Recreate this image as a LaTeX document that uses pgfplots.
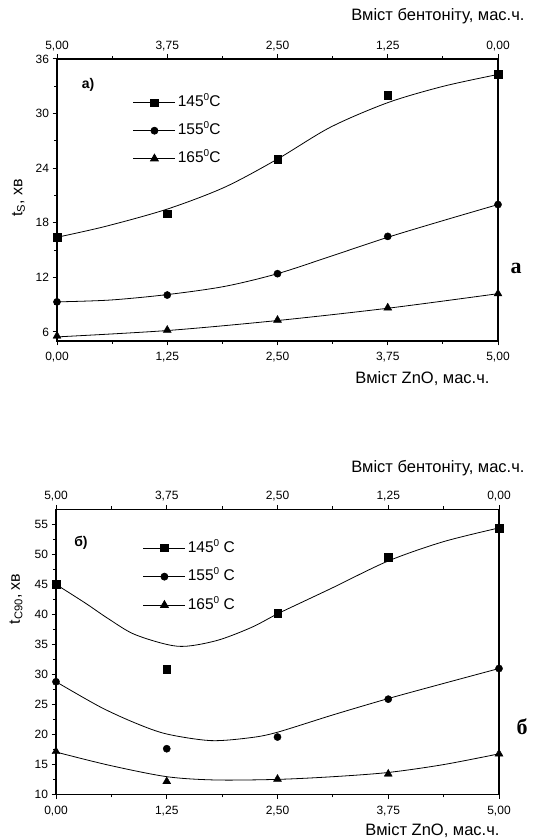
\documentclass[border=0pt]{standalone}
\usepackage{pgfplots}
\pgfplotsset{compat=1.18}
\usepackage{fontspec}
\setmainfont{Liberation Sans}
\newfontfamily\serifb{Liberation Serif}
\newcommand{\degsup}[1]{\raisebox{0.75ex}{\fontsize{10}{10}\selectfont #1}}
\pgfplotsset{
  base/.style={
    scale only axis,
    axis line style={line width=1.3pt},
    tick align=outside,
    major tick length=4.5pt, minor tick length=2.8pt,
    every tick/.style={black, line width=1pt},
    tick label style={font=\fontsize{12}{14}\selectfont},
    /pgf/number format/assume math mode=true,
    xmin=0, xmax=5,
    xtick={0,1.25,2.5,3.75,5},
    minor x tick num=1,
    clip=false,
  },
  bot/.style={xticklabel style={yshift=-3.5pt}},
}
\begin{document}
\begin{tikzpicture}
\path[use as bounding box] (0pt,0pt) rectangle (549pt,840pt);

% ---------------- panel a ----------------
\begin{axis}[base, bot,
  at={(57pt,499pt)}, anchor=south west, width=441pt, height=282pt,
  ymin=5, ymax=36, ytick={6,12,...,36}, minor y tick num=1,
  xtick pos=left, ytick pos=left,
  xticklabels={{0,00},{1,25},{2,50},{3,75},{5,00}},
  legend style={at={(0.172,0.7457)}, anchor=west, draw=none, fill=none,
    inner sep=0pt, row sep=10pt,
    nodes={inner sep=2pt, text height=11pt, text depth=3pt},
    font=\fontsize{15.5}{18}\selectfont},
  legend cell align=left,
  legend image code/.code={\draw[mark repeat=2,mark phase=2,#1] plot coordinates {(0pt,0pt) (21pt,0pt) (42pt,0pt)};},
]
\addlegendimage{black, line width=0.8pt, mark=square*, mark size=3.6pt}
\addlegendentry{145\degsup{0}C}
\addlegendimage{black, line width=0.8pt, mark=*, mark size=3.5pt}
\addlegendentry{155\degsup{0}C}
\addlegendimage{black, line width=0.8pt, mark=triangle*, mark size=4.5pt}
\addlegendentry{165\degsup{0}C}
% fitted curves
\addplot[black, line width=0.8pt, smooth] coordinates {(0,16.4) (0.55,17.6) (1.25,19.5) (1.9,21.9) (2.5,25.0) (3.1,28.5) (3.75,31.2) (4.38,33.0) (5,34.3)};
\addplot[black, line width=0.8pt, smooth] coordinates {(0,9.3) (0.6,9.5) (1.25,10.1) (1.9,11.0) (2.5,12.4) (3.1,14.3) (3.75,16.4) (4.4,18.3) (5,20.0)};
\addplot[black, line width=0.8pt, smooth] coordinates {(0,5.45) (1.25,6.15) (2.5,7.25) (3.75,8.6) (5,10.2)};
% measured points
\addplot[only marks, mark=square*, mark size=3.8pt] coordinates {(0,16.4) (1.25,19.0) (2.5,25.0) (3.75,32.0) (5,34.3)};
\addplot[only marks, mark=*, mark size=3.6pt] coordinates {(0,9.3) (1.25,10.05) (2.5,12.4) (3.75,16.5) (5,20.0)};
\addplot[only marks, mark=triangle*, mark size=4.6pt] coordinates {(0,5.55) (1.25,6.2) (2.5,7.3) (3.75,8.65) (5,10.2)};
\end{axis}
\begin{axis}[base,
  at={(57pt,499pt)}, anchor=south west, width=441pt, height=282pt,
  ymin=5, ymax=36,
  axis x line*=top, axis y line=none,
  xticklabels={{5,00},{3,75},{2,50},{1,25},{0,00}},
]
\end{axis}
\node[anchor=east, font=\fontsize{16.5}{19}\selectfont] at (528pt,824pt) {Вміст бентоніту, мас.ч.};
\node[anchor=east, font=\fontsize{16.5}{19}\selectfont] at (493pt,461pt) {Вміст ZnO, мас.ч.};
\node[rotate=90, font=\fontsize{16}{19}\selectfont] at (18.5pt,642pt) {t\textsubscript{S}, хв};
\node[font=\bfseries\fontsize{14}{16}\selectfont] at (88pt,755pt) {а)};
\node[font=\serifb\bfseries\fontsize{22}{24}\selectfont] at (516pt,572pt) {а};

% ---------------- panel b ----------------
\begin{axis}[base, bot,
  at={(56pt,45.3pt)}, anchor=south west, width=443pt, height=285.4pt,
  ymin=10, ymax=57.5, ytick={10,15,...,55}, minor y tick num=1,
  xtick pos=left, ytick pos=left,
  xticklabels={{0,00},{1,25},{2,50},{3,75},{5,00}},
  legend style={at={(0.196,0.7640)}, anchor=west, draw=none, fill=none,
    inner sep=0pt, row sep=10.5pt,
    nodes={inner sep=2pt, text height=11pt, text depth=3pt},
    font=\fontsize{15.5}{18}\selectfont},
  legend cell align=left,
  legend image code/.code={\draw[mark repeat=2,mark phase=2,#1] plot coordinates {(0pt,0pt) (21pt,0pt) (42pt,0pt)};},
]
\addlegendimage{black, line width=0.8pt, mark=square*, mark size=3.6pt}
\addlegendentry{145\degsup{0} C}
\addlegendimage{black, line width=0.8pt, mark=*, mark size=3.5pt}
\addlegendentry{155\degsup{0} C}
\addlegendimage{black, line width=0.8pt, mark=triangle*, mark size=4.5pt}
\addlegendentry{165\degsup{0} C}
% fitted curves
\addplot[black, line width=0.8pt, smooth] coordinates {(0,45) (0.33,41.9) (0.6,39.2) (0.9,36.6) (1.375,34.7) (1.8,35.6) (2.2,37.8) (2.5,40.1) (2.8,42.2) (3.13,44.5) (3.75,48.9) (4.37,52.1) (5,54.4)};
\addplot[black, line width=0.8pt, smooth] coordinates {(0,28.8) (0.5,24.6) (0.9,21.9) (1.25,20.1) (1.75,19.0) (2.2,19.5) (2.5,20.4) (3.13,23.3) (3.75,26.0) (4.37,28.5) (5,31.0)};
\addplot[black, line width=0.8pt, smooth] coordinates {(0,17.1) (0.6,14.9) (1.25,13.0) (1.8,12.45) (2.5,12.55) (3.13,13.0) (3.75,13.7) (4.37,15.0) (5,16.8)};
% measured points
\addplot[only marks, mark=square*, mark size=3.8pt] coordinates {(0,45.0) (1.25,30.9) (2.5,40.2) (3.75,49.5) (5,54.4)};
\addplot[only marks, mark=*, mark size=3.6pt] coordinates {(0,28.8) (1.25,17.65) (2.5,19.6) (3.75,25.9) (5,31.0)};
\addplot[only marks, mark=triangle*, mark size=4.6pt] coordinates {(0,17.2) (1.25,12.2) (2.5,12.6) (3.75,13.45) (5,16.8)};
\end{axis}
\begin{axis}[base,
  at={(56pt,45.3pt)}, anchor=south west, width=443pt, height=285.4pt,
  ymin=10, ymax=57.5,
  axis x line*=top, axis y line=none,
  xticklabels={{5,00},{3,75},{2,50},{1,25},{0,00}},
]
\end{axis}
\node[anchor=east, font=\fontsize{16.5}{19}\selectfont] at (528pt,372pt) {Вміст бентоніту, мас.ч.};
\node[anchor=east, font=\fontsize{16.5}{19}\selectfont] at (503pt,9pt) {Вміст ZnO, мас.ч.};
\node[rotate=90, font=\fontsize{16}{19}\selectfont] at (16pt,241pt) {t\textsubscript{C90}, хв};
\node[font=\bfseries\fontsize{14}{16}\selectfont] at (81pt,297pt) {б)};
\node[font=\serifb\bfseries\fontsize{22}{24}\selectfont] at (522pt,113pt) {б};
\end{tikzpicture}
\end{document}
